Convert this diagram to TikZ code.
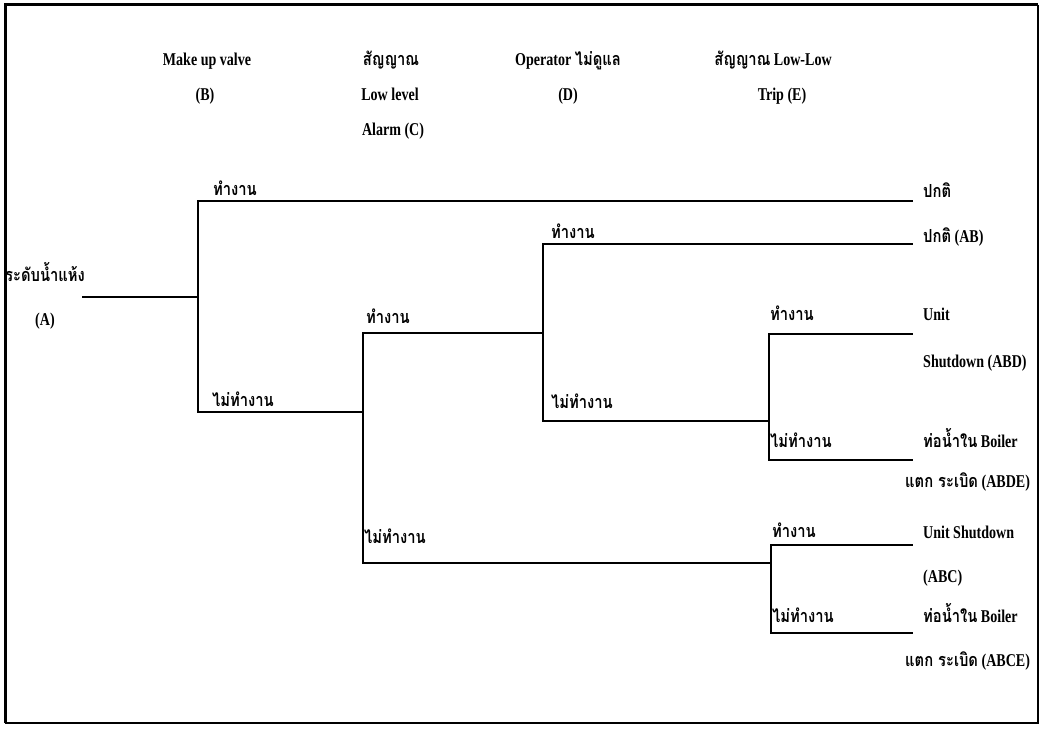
\documentclass[tikz,border=0pt]{standalone}
\usepackage{fontspec}
\setmainfont{Liberation Serif}[FakeStretch=0.78]
\newfontfamily\thaifont[Script=Thai,FakeStretch=0.82]{Loma}
\newcommand{\tht}[1]{{\thaifont #1}}
\begin{document}
\begin{tikzpicture}[x=1pt,y=-1pt,
  txt/.style={font=\fontsize{18}{20}\selectfont\bfseries, inner sep=0pt},
  lbl/.style={txt, anchor=base west},
  hdr/.style={txt, anchor=base},
  branch/.style={line width=1.3pt, line cap=rect}]
\useasboundingbox (0,0) rectangle (1041,730);
% frame
\draw[line width=3pt] (5,723) -- (5,5) -- (1038,5);
\draw[line width=1.3pt] (1038,5) -- (1038,723) -- (5,723);

% headers
\node[hdr] (hB1) at (207,66) {Make up valve};
\node[hdr] (hB2) at (205,101) {(B)};
\node[hdr] (hC1) at (391,66) {\tht{สัญญาณ}};
\node[hdr] (hC2) at (390,101) {Low level};
\node[hdr] (hC3) at (393,136) {Alarm (C)};
\node[hdr] (hD1) at (568,66) {Operator \tht{ไม่ดูแล}};
\node[hdr] (hD2) at (568,101) {(D)};
\node[hdr] (hE1) at (773,66) {\tht{สัญญาณ} Low-Low};
\node[hdr] (hE2) at (782,101) {Trip (E)};

% initiating event
\node[lbl] (a1) at (5,281) {\tht{ระดับน้ำแห้ง}};
\node[lbl] (a2) at (35,325) {(A)};

% tree coordinates
\coordinate (A0) at (83,297);
\coordinate (B) at (198,297);
\coordinate (B1) at (198,201); \coordinate (B1e) at (912,201);
\coordinate (B2) at (198,412); \coordinate (C) at (363,412);
\coordinate (C1) at (363,333); \coordinate (D) at (543,333);
\coordinate (C2) at (363,563); \coordinate (E2) at (771,563);
\coordinate (D1) at (543,244); \coordinate (D1e) at (912,244);
\coordinate (D2) at (543,421); \coordinate (E1) at (769,421);
\coordinate (E1a) at (769,334); \coordinate (E1ae) at (912,334);
\coordinate (E1b) at (769,460); \coordinate (E1be) at (912,460);
\coordinate (E2a) at (771,545); \coordinate (E2ae) at (912,545);
\coordinate (E2b) at (771,633); \coordinate (E2be) at (912,633);

\draw[branch] (A0) -- (B);
\draw[branch] (B1e) -- (B1) -- (B2) -- (C);
\draw[branch] (D) -- (C1) -- (C2) -- (E2);
\draw[branch] (D1e) -- (D1) -- (D2) -- (E1);
\draw[branch] (E1ae) -- (E1a) -- (E1b) -- (E1be);
\draw[branch] (E2ae) -- (E2a) -- (E2b) -- (E2be);

% branch labels
\node[lbl] (lB1) at (213,196) {\tht{ทำงาน}};
\node[lbl] (lB2) at (212,406) {\tht{ไม่ทำงาน}};
\node[lbl] (lC1) at (366,323) {\tht{ทำงาน}};
\node[lbl] (lC2) at (364,543) {\tht{ไม่ทำงาน}};
\node[lbl] (lD1) at (551,238) {\tht{ทำงาน}};
\node[lbl] (lD2) at (551,408) {\tht{ไม่ทำงาน}};
\node[lbl] (lE1) at (770,320) {\tht{ทำงาน}};
\node[lbl] (lE2) at (770,447) {\tht{ไม่ทำงาน}};
\node[lbl] (lE3) at (772,537) {\tht{ทำงาน}};
\node[lbl] (lE4) at (772,622) {\tht{ไม่ทำงาน}};

% outcomes
\node[lbl] (o1) at (923,197) {\tht{ปกติ}};
\node[lbl] (o2) at (923,242) {\tht{ปกติ} (AB)};
\node[lbl] (o3a) at (923,320) {Unit};
\node[lbl] (o3b) at (923,367) {Shutdown (ABD)};
\node[lbl] (o4a) at (923,447) {\tht{ท่อน้ำใน} Boiler};
\node[lbl] (o4b) at (905,487) {\tht{แตก ระเบิด} (ABDE)};
\node[lbl] (o5a) at (923,538) {Unit Shutdown};
\node[lbl] (o5b) at (923,582) {(ABC)};
\node[lbl] (o6a) at (923,622) {\tht{ท่อน้ำใน} Boiler};
\node[lbl] (o6b) at (905,666) {\tht{แตก ระเบิด} (ABCE)};
\end{tikzpicture}
\end{document}
